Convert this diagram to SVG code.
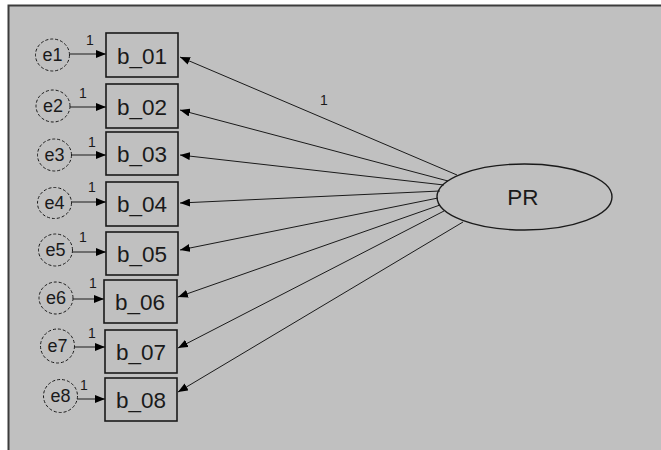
<svg xmlns="http://www.w3.org/2000/svg" width="661" height="450" viewBox="0 0 661 450">
  <style>
    .box { fill: none; stroke: #1a1a1a; stroke-width: 1.6; }
    .err { fill: none; stroke: #1a1a1a; stroke-width: 1; stroke-dasharray: 3 2; }
    .lat { fill: none; stroke: #1a1a1a; stroke-width: 1.4; }
    .path { fill: none; stroke: #1a1a1a; stroke-width: 1; marker-end: url(#head); }
    .lbl { font-family: "Liberation Sans", Arial, sans-serif; fill: #1a1a1a; }
    .var { font-size: 22.5px; text-anchor: middle; }
    .ename { font-size: 18px; text-anchor: middle; }
    .coef { font-size: 14px; text-anchor: middle; }
  </style>
  <defs>
    <marker id="head" viewBox="0 0 10 8" refX="10" refY="4" markerWidth="10" markerHeight="8" orient="auto" markerUnits="userSpaceOnUse">
      <path d="M0,0 L10,4 L0,8 Z" fill="#000"/>
    </marker>
  </defs>

  <!-- canvas -->
  <rect x="0" y="0" width="661" height="450" fill="#ffffff"/>
  <rect x="8" y="5" width="653" height="445" fill="#c0c0c0"/>
  <path d="M8.5,450 V5.5 H661" fill="none" stroke="#3c3c3c" stroke-width="2"/>

  <!-- connectors -->
  <g id="connectors">
    <line class="path" x1="70" y1="54" x2="106" y2="54"/>
    <line class="path" x1="70" y1="107" x2="106" y2="107"/>
    <line class="path" x1="71" y1="155" x2="106" y2="155"/>
    <line class="path" x1="71" y1="202" x2="106" y2="202"/>
    <line class="path" x1="72" y1="252" x2="106" y2="252"/>
    <line class="path" x1="73" y1="299" x2="104" y2="299"/>
    <line class="path" x1="74" y1="347" x2="105" y2="347"/>
    <line class="path" x1="77" y1="399" x2="105" y2="399"/>

    <line class="path" x1="457" y1="175" x2="180" y2="57"/>
    <line class="path" x1="448" y1="181" x2="180" y2="110"/>
    <line class="path" x1="444" y1="185" x2="180" y2="155"/>
    <line class="path" x1="440" y1="191" x2="180" y2="203"/>
    <line class="path" x1="438" y1="198" x2="180" y2="250"/>
    <line class="path" x1="440" y1="205" x2="178" y2="297"/>
    <line class="path" x1="444" y1="211" x2="178" y2="348"/>
    <line class="path" x1="463" y1="222" x2="178" y2="392"/>

    <text class="lbl coef" x="90" y="45">1</text>
    <text class="lbl coef" x="83" y="98">1</text>
    <text class="lbl coef" x="92" y="147">1</text>
    <text class="lbl coef" x="92" y="192">1</text>
    <text class="lbl coef" x="83" y="242">1</text>
    <text class="lbl coef" x="93" y="288">1</text>
    <text class="lbl coef" x="92" y="338">1</text>
    <text class="lbl coef" x="84" y="390">1</text>
    <text class="lbl coef" x="324" y="105">1</text>
  </g>

  <!-- latent factor -->
  <g id="PR">
    <ellipse class="lat" cx="524.5" cy="197" rx="87.5" ry="33"/>
    <text class="lbl var" x="523" y="205">PR</text>
  </g>

  <!-- observed indicators -->
  <g id="b_01"><rect class="box" x="106" y="33" width="72" height="44"/><text class="lbl var" x="142" y="64">b_01</text></g>
  <g id="b_02"><rect class="box" x="106" y="84" width="72" height="44"/><text class="lbl var" x="142" y="115">b_02</text></g>
  <g id="b_03"><rect class="box" x="106" y="132" width="72" height="43"/><text class="lbl var" x="142" y="162">b_03</text></g>
  <g id="b_04"><rect class="box" x="106" y="182" width="72" height="44"/><text class="lbl var" x="142" y="212">b_04</text></g>
  <g id="b_05"><rect class="box" x="106" y="232" width="72" height="43"/><text class="lbl var" x="142" y="262">b_05</text></g>
  <g id="b_06"><rect class="box" x="104" y="280" width="73" height="43"/><text class="lbl var" x="140" y="310">b_06</text></g>
  <g id="b_07"><rect class="box" x="105" y="330" width="72" height="43"/><text class="lbl var" x="141" y="360">b_07</text></g>
  <g id="b_08"><rect class="box" x="105" y="378" width="72" height="43"/><text class="lbl var" x="141" y="408">b_08</text></g>

  <!-- error terms -->
  <g id="e1"><ellipse class="err" cx="52.5" cy="55" rx="17" ry="16"/><text class="lbl ename" x="52.5" y="61">e1</text></g>
  <g id="e2"><ellipse class="err" cx="53" cy="106" rx="17" ry="16"/><text class="lbl ename" x="53" y="112">e2</text></g>
  <g id="e3"><ellipse class="err" cx="54.5" cy="155" rx="17" ry="16"/><text class="lbl ename" x="54.5" y="161">e3</text></g>
  <g id="e4"><ellipse class="err" cx="54.5" cy="203" rx="17" ry="15.5"/><text class="lbl ename" x="54.5" y="209">e4</text></g>
  <g id="e5"><ellipse class="err" cx="55.5" cy="250" rx="17" ry="16"/><text class="lbl ename" x="55.5" y="256">e5</text></g>
  <g id="e6"><ellipse class="err" cx="56" cy="298" rx="17" ry="16"/><text class="lbl ename" x="56" y="304">e6</text></g>
  <g id="e7"><ellipse class="err" cx="57.5" cy="346" rx="17" ry="17"/><text class="lbl ename" x="57.5" y="352">e7</text></g>
  <g id="e8"><ellipse class="err" cx="60.5" cy="396" rx="17" ry="16.5"/><text class="lbl ename" x="60.5" y="402">e8</text></g>
</svg>
